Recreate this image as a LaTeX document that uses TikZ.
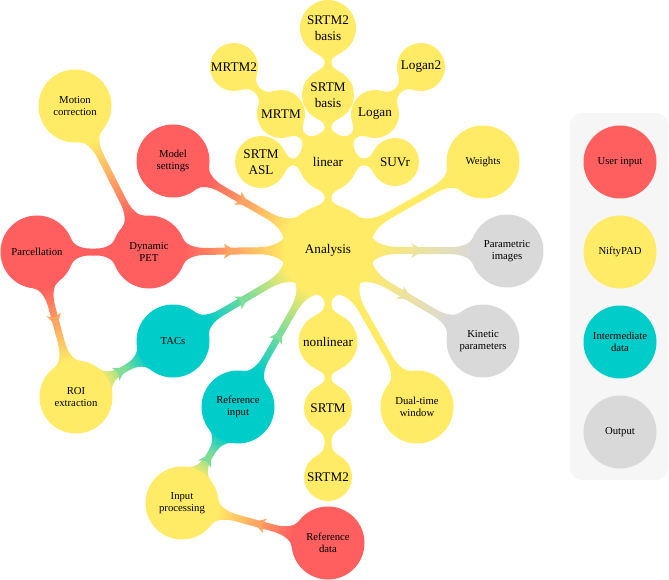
\documentclass[tikz,border=0pt]{standalone}
\usepackage{fontspec}
\setmainfont{Liberation Serif}
\usetikzlibrary{calc}
\pgfdeclarelayer{bg}
\pgfsetlayers{bg,main}
\definecolor{cred}{HTML}{FF5F5F}
\definecolor{cyel}{HTML}{FFEB66}
\definecolor{cteal}{HTML}{00CCCA}
\definecolor{cgray}{HTML}{D9D9D9}
\definecolor{cbox}{HTML}{F6F6F6}
\newcommand\barh{3.5}
% #1 node A, #2 node B, #3 colour at A, #4 colour at B, #5 arrow (1) or not (0)
\newcommand\linkbar[5]{%
  \path let \p1=(#1.center), \p2=(#2.center), \p3=(#1.east), \p4=(#2.east) in
    \pgfextra{%
      \pgfmathsetmacro\tmpa{atan2(\y2-\y1,\x2-\x1)}\xdef\Lang{\tmpa}%
      \pgfmathsetmacro\tmpa{veclen(\x2-\x1,\y2-\y1)}\xdef\Llen{\tmpa}%
      \pgfmathsetmacro\tmpa{\x3-\x1}\xdef\Lra{\tmpa}%
      \pgfmathsetmacro\tmpa{\x4-\x2}\xdef\Lrb{\tmpa}%
    };
  \pgfmathsetmacro\Lgap{\Llen-\Lra-\Lrb}%
  \pgfmathsetmacro\Lsang{\Lang-90}%
  \pgfmathsetmacro\Lwa{\Lra>40?16:13}%
  \pgfmathsetmacro\Lwb{\Lrb>40?16:13}%
  \pgfmathsetmacro\Laa{asin(min(0.47,\Lwa/\Lra))}%
  \pgfmathsetmacro\Lab{asin(min(0.47,\Lwb/\Lrb))}%
  \pgfmathsetmacro\Lfa{min(0.55*\Lra,0.42*\Lgap)}%
  \pgfmathsetmacro\Lfb{min(0.55*\Lrb,0.42*\Lgap)}%
  \pgfmathsetmacro\Lpax{\Lra*cos(\Laa)}%
  \pgfmathsetmacro\Lpay{\Lra*sin(\Laa)}%
  \pgfmathsetmacro\Lpbx{\Llen-\Lrb*cos(\Lab)}%
  \pgfmathsetmacro\Lpby{\Lrb*sin(\Lab)}%
  \pgfmathsetmacro\Lqax{\Lra+\Lfa}%
  \pgfmathsetmacro\Lqbx{\Llen-\Lrb-\Lfb}%
  \pgfmathsetmacro\Lka{0.6*(\Lpay-\barh)}%
  \pgfmathsetmacro\Lkb{0.6*(\Lpby-\barh)}%
  \pgfmathsetmacro\Lcax{\Lpax+\Lka*sin(\Laa)}%
  \pgfmathsetmacro\Lcay{\Lpay-\Lka*cos(\Laa)}%
  \pgfmathsetmacro\Lcbx{\Lpbx-\Lkb*sin(\Lab)}%
  \pgfmathsetmacro\Lcby{\Lpby-\Lkb*cos(\Lab)}%
  \pgfmathsetmacro\Ldax{\Lqax-0.6*\Lfa}%
  \pgfmathsetmacro\Ldbx{\Lqbx+0.6*\Lfb}%
  \tikzset{ltr/.style={shift={(#1.center)},rotate=\Lang}}%
  \shade[top color=#4,bottom color=#3,shading angle=\Lsang]
    ([ltr]\Lpax,\Lpay) .. controls ([ltr]\Lcax,\Lcay) and ([ltr]\Ldax,\barh) .. ([ltr]\Lqax,\barh)
    -- ([ltr]\Lqbx,\barh) .. controls ([ltr]\Ldbx,\barh) and ([ltr]\Lcbx,\Lcby) .. ([ltr]\Lpbx,\Lpby)
    -- ([ltr]\Lpbx,-\Lpby) .. controls ([ltr]\Lcbx,-\Lcby) and ([ltr]\Ldbx,-\barh) .. ([ltr]\Lqbx,-\barh)
    -- ([ltr]\Lqax,-\barh) .. controls ([ltr]\Ldax,-\barh) and ([ltr]\Lcax,-\Lcay) .. ([ltr]\Lpax,-\Lpay) -- cycle;
  \ifnum#5=1
    \pgfmathsetmacro\Ltip{\Lra+0.5*\Lgap+2}%
    \fill[#3!50!#4] ([ltr]\Ltip,0) -- ([ltr]\Ltip-12.5,7.5) -- ([ltr]\Ltip-9,0)
      -- ([ltr]\Ltip-12.5,-7.5) -- cycle;
  \fi
}
\tikzset{
  nd/.style={circle, inner sep=0pt, outer sep=0pt, align=center, text=black},
  big/.style={nd, minimum size=73pt, font=\fontsize{10.7}{12.4}\selectfont},
  uin/.style={big, fill=cred},
  nif/.style={big, fill=cyel},
  itm/.style={big, fill=cteal},
  outp/.style={big, fill=cgray},
  tec/.style={nd, fill=cyel, minimum size=#1, font=\fontsize{13.2}{15.8}\selectfont},
}
\begin{document}
\begin{tikzpicture}[x=1pt,y=1pt]
\useasboundingbox (0,0) rectangle (669,-580);
% legend panel
\fill[cbox, rounded corners=12pt] (570,-113) rectangle (668,-480);
% central cluster
\node[tec=90pt] (ana) at (328,-250) {Analysis};
\node[tec=58pt] (lin) at (328,-162) {linear};
\node[tec=52pt] (srtmb) at (328,-95) {SRTM\\basis};
\node[tec=56pt] (srtm2b) at (328,-28) {SRTM2\\basis};
\node[tec=48pt] (mrtm) at (281,-114) {MRTM};
\node[tec=48pt] (mrtm2) at (234,-67) {MRTM2};
\node[tec=48pt] (logan) at (375,-114) {Logan};
\node[tec=48pt] (logan2) at (421,-67) {Logan2};
\node[tec=52pt] (asl) at (261,-162) {SRTM\\ASL};
\node[tec=48pt] (suvr) at (395,-162) {SUVr};
\node[tec=59pt] (nonlin) at (328,-342) {nonlinear};
\node[tec=48pt] (srtm) at (328,-408) {SRTM};
\node[tec=48pt] (srtm2) at (328,-477) {SRTM2};
% satellites
\node[nif] (wts) at (483,-162) {Weights};
\node[outp] (par) at (507,-251) {Parametric\\images};
\node[outp] (kin) at (483,-341) {Kinetic\\parameters};
\node[nif] (dual) at (417,-407) {Dual-time\\window};
\node[uin] (mod) at (173,-161) {Model\\settings};
\node[uin] (dyn) at (149,-252) {Dynamic\\PET};
\node[uin] (parc) at (37,-252) {Parcellation};
\node[nif] (mot) at (75,-106) {Motion\\correction};
\node[itm] (tacs) at (173,-341) {TACs};
\node[nif] (roi) at (76,-397) {ROI\\extraction};
\node[itm] (refin) at (238,-407) {Reference\\input};
\node[nif] (inp) at (182,-503) {Input\\processing};
\node[uin] (refd) at (328,-543) {Reference\\data};
% legend
\node[uin] (lg1) at (620,-162) {User input};
\node[nif] (lg2) at (620,-252) {NiftyPAD};
\node[itm] (lg3) at (620,-342) {Intermediate\\data};
\node[outp] (lg4) at (620,-432) {Output};
% connectors
\begin{pgfonlayer}{bg}
\linkbar{ana}{lin}{cyel}{cyel}{0}
\linkbar{lin}{srtmb}{cyel}{cyel}{0}
\linkbar{srtmb}{srtm2b}{cyel}{cyel}{0}
\linkbar{lin}{mrtm}{cyel}{cyel}{0}
\linkbar{mrtm}{mrtm2}{cyel}{cyel}{0}
\linkbar{lin}{logan}{cyel}{cyel}{0}
\linkbar{logan}{logan2}{cyel}{cyel}{0}
\linkbar{lin}{asl}{cyel}{cyel}{0}
\linkbar{lin}{suvr}{cyel}{cyel}{0}
\linkbar{ana}{nonlin}{cyel}{cyel}{0}
\linkbar{nonlin}{srtm}{cyel}{cyel}{0}
\linkbar{srtm}{srtm2}{cyel}{cyel}{0}
\linkbar{ana}{wts}{cyel}{cyel}{0}
\linkbar{ana}{dual}{cyel}{cyel}{0}
\linkbar{mod}{ana}{cred}{cyel}{1}
\linkbar{dyn}{ana}{cred}{cyel}{1}
\linkbar{tacs}{ana}{cteal}{cyel}{1}
\linkbar{refin}{ana}{cteal}{cyel}{1}
\linkbar{ana}{par}{cyel}{cgray}{1}
\linkbar{ana}{kin}{cyel}{cgray}{1}
\linkbar{parc}{dyn}{cred}{cred}{0}
\linkbar{mot}{dyn}{cyel}{cred}{0}
\linkbar{parc}{roi}{cred}{cyel}{1}
\linkbar{roi}{tacs}{cyel}{cteal}{1}
\linkbar{inp}{refin}{cyel}{cteal}{1}
\linkbar{refd}{inp}{cred}{cyel}{1}
\end{pgfonlayer}
\end{tikzpicture}
\end{document}
